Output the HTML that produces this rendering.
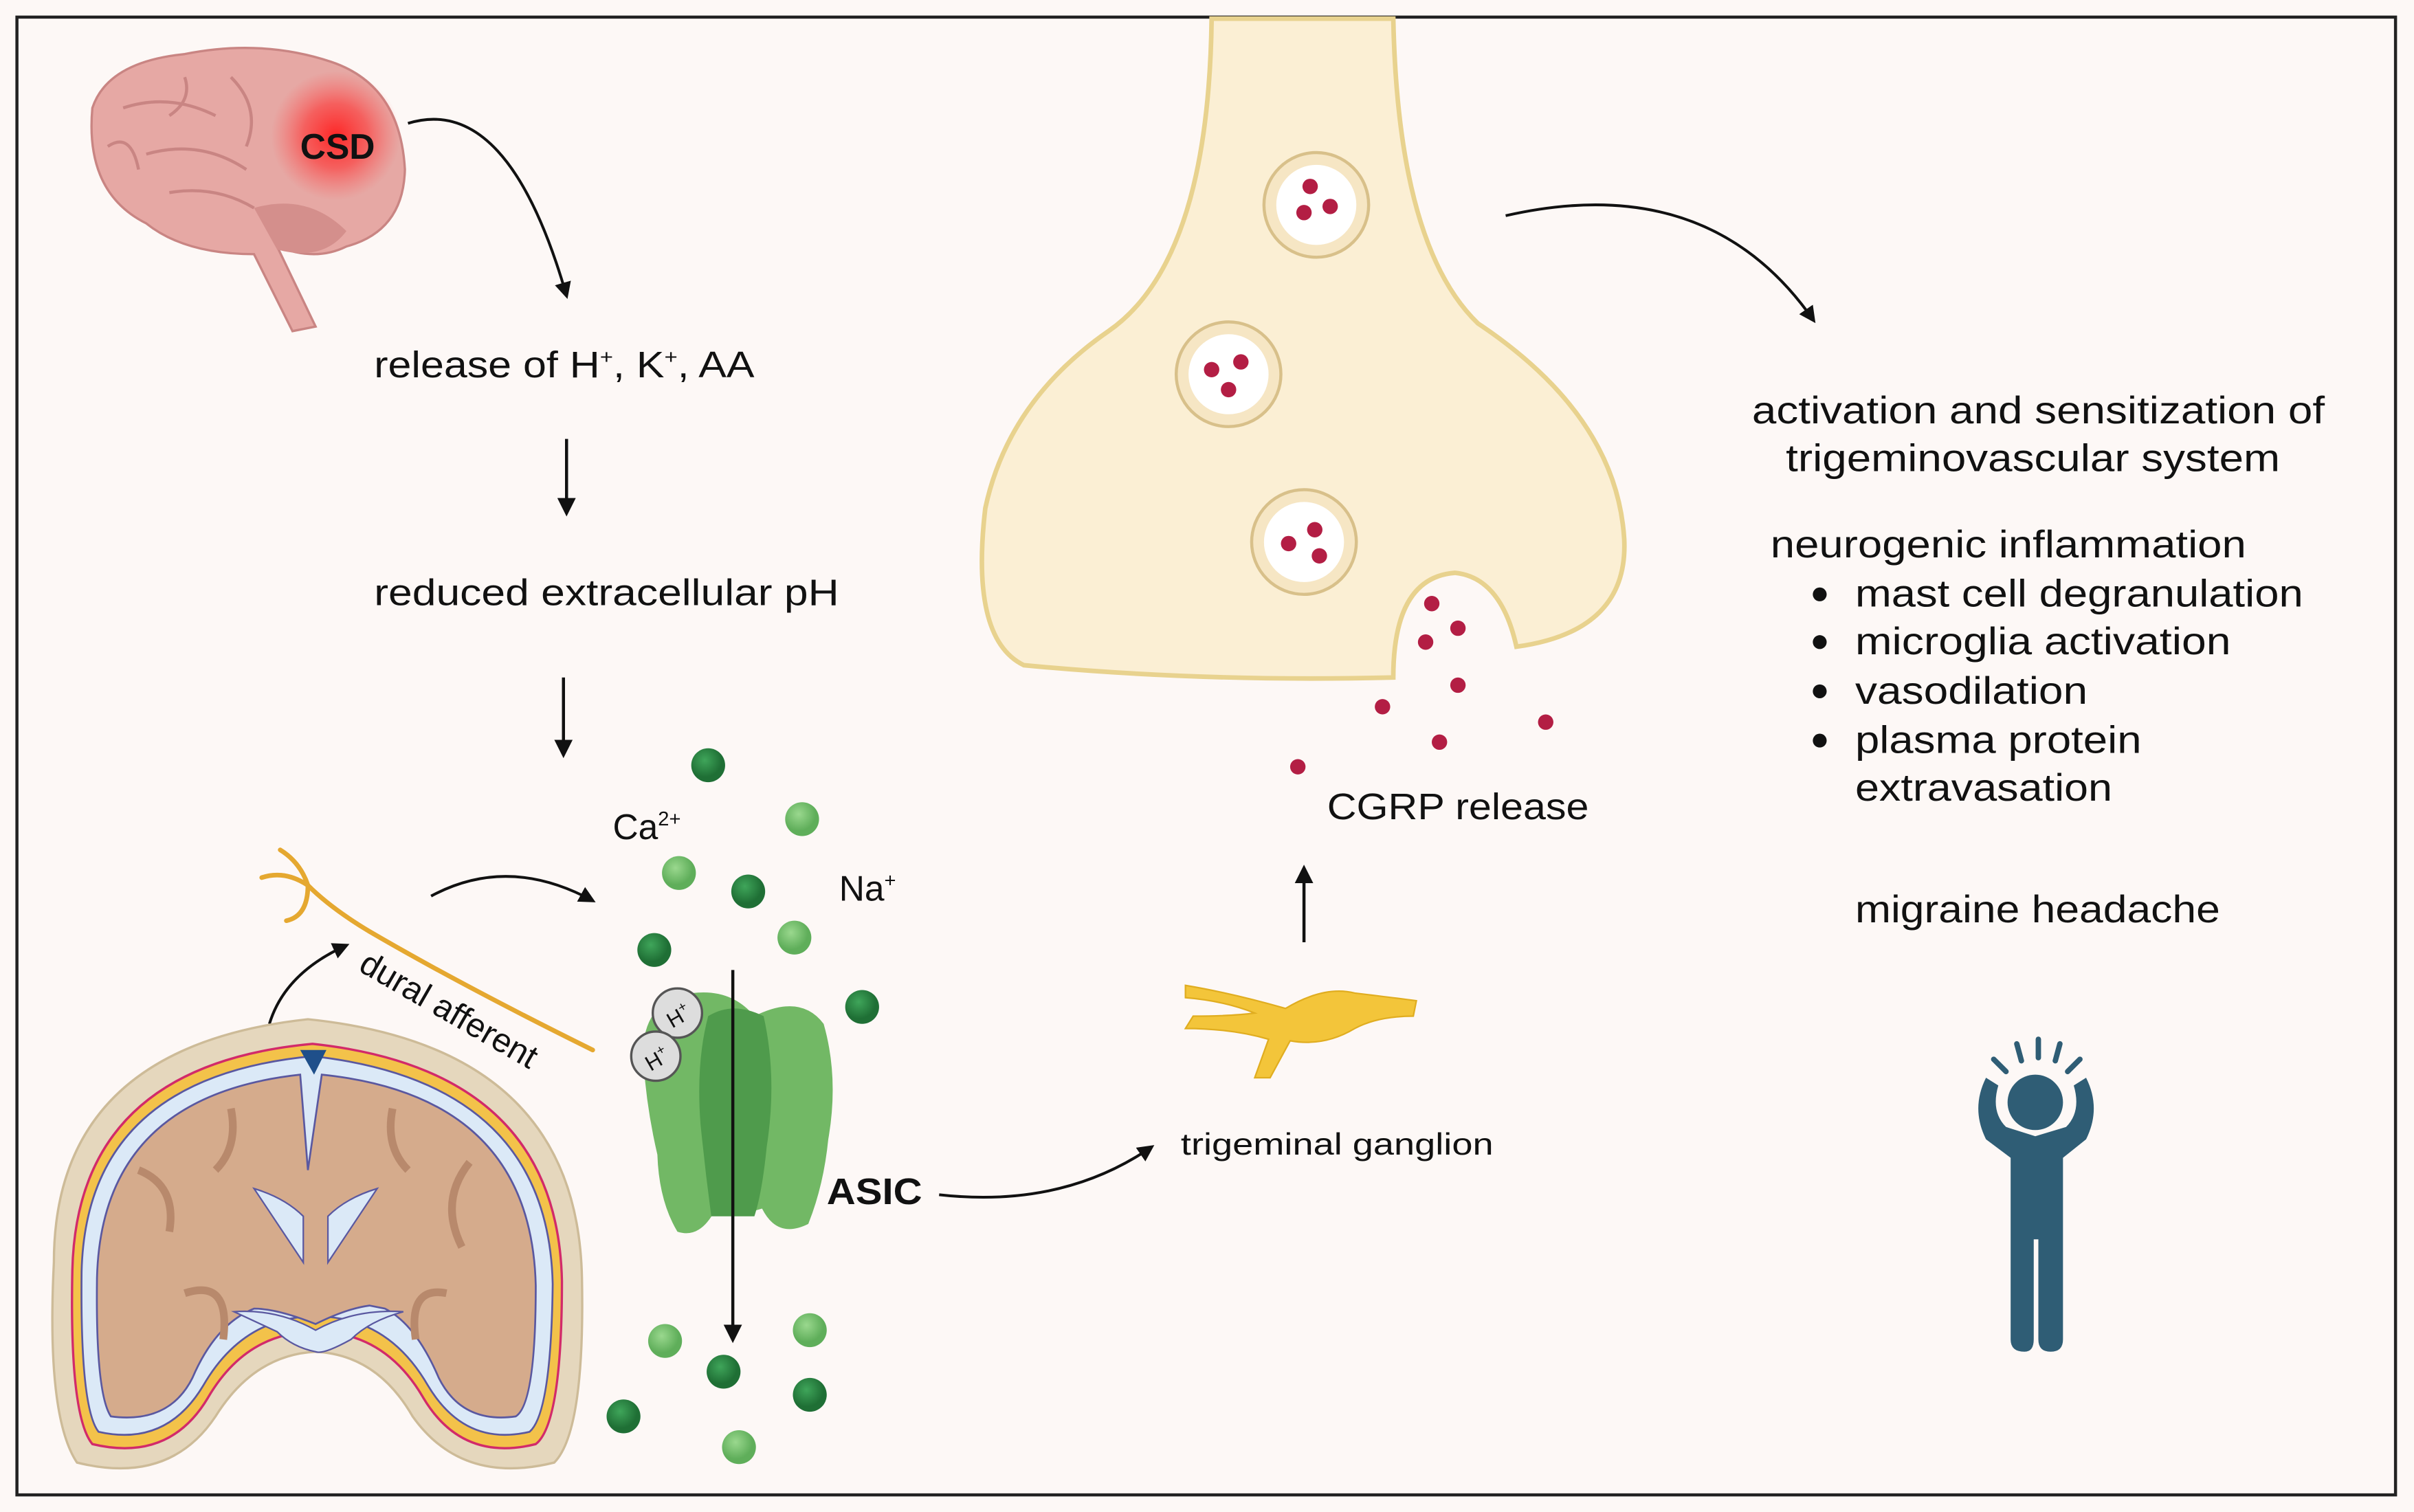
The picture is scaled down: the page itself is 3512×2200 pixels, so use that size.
<!DOCTYPE html>
<html><head><meta charset="utf-8"><style>
html,body{margin:0;padding:0;background:#fdf8f6}
svg{display:block}
text{font-family:"Liberation Sans",sans-serif;fill:#111}
</style></head><body>
<svg width="3512" height="2200" viewBox="0 0 1568 982" xmlns="http://www.w3.org/2000/svg">
<defs>
<marker id="ah" viewBox="0 0 10 10" refX="8" refY="5" markerWidth="6" markerHeight="6" orient="auto-start-reverse"><path d="M0,0 L10,5 L0,10 z" fill="#111"/></marker>
<radialGradient id="glow"><stop offset="0" stop-color="#ff2020" stop-opacity="0.95"/><stop offset="0.5" stop-color="#ff3030" stop-opacity="0.6"/><stop offset="1" stop-color="#ff5050" stop-opacity="0"/></radialGradient>
<radialGradient id="dg" cx="0.4" cy="0.35"><stop offset="0" stop-color="#3fa55a"/><stop offset="1" stop-color="#1f6f35"/></radialGradient>
<radialGradient id="lg" cx="0.4" cy="0.35"><stop offset="0" stop-color="#9ad88e"/><stop offset="1" stop-color="#5fae5a"/></radialGradient>
</defs>
<rect x="0" y="0" width="1568" height="982" fill="#fdf8f6"/>
<rect x="11" y="11" width="1545" height="960" fill="none" stroke="#222" stroke-width="2"/>

<!-- top brain -->
<path d="M60,70 Q70,40 120,35 Q170,25 215,40 Q260,55 263,110 Q262,150 225,160 Q205,170 180,160 L205,212 L190,215 L165,165 Q120,165 95,145 Q55,125 60,70 Z" fill="#e6a8a4" stroke="#c98583" stroke-width="1.5"/>
<path d="M165,135 Q200,125 225,150 Q210,170 180,162 Z" fill="#d48f8c"/>
<path d="M80,70 Q110,60 140,75 M95,100 Q130,90 160,110 M150,50 Q170,70 160,95 M110,125 Q140,120 165,135 M70,95 Q85,85 90,110 M120,50 Q125,65 110,75" stroke="#c98583" stroke-width="2" fill="none"/>
<circle cx="218" cy="88" r="42" fill="url(#glow)"/>
<text x="195" y="103" font-size="23" font-weight="bold">CSD</text>
<path d="M265,80 Q330,60 368,192" fill="none" stroke="#111" stroke-width="1.8" marker-end="url(#ah)"/>

<text x="243" y="245" font-size="24" textLength="247" lengthAdjust="spacingAndGlyphs">release of H<tspan font-size="13" dy="-9">+</tspan><tspan dy="9">, K</tspan><tspan font-size="13" dy="-9">+</tspan><tspan dy="9">, AA</tspan></text>
<line x1="368" y1="285" x2="368" y2="333" stroke="#111" stroke-width="2" marker-end="url(#ah)"/>
<text x="243" y="393" font-size="24" textLength="302" lengthAdjust="spacingAndGlyphs">reduced extracellular pH</text>
<line x1="366" y1="440" x2="366" y2="490" stroke="#111" stroke-width="2" marker-end="url(#ah)"/>

<!-- ions -->
<g fill="url(#dg)">
<circle cx="460" cy="497" r="11"/><circle cx="486" cy="579" r="11"/><circle cx="425" cy="617" r="11"/><circle cx="560" cy="654" r="11"/><circle cx="470" cy="891" r="11"/><circle cx="526" cy="906" r="11"/><circle cx="405" cy="920" r="11"/>
</g>
<g fill="url(#lg)">
<circle cx="521" cy="532" r="11"/><circle cx="441" cy="567" r="11"/><circle cx="516" cy="609" r="11"/><circle cx="432" cy="871" r="11"/><circle cx="526" cy="864" r="11"/><circle cx="480" cy="940" r="11"/>
</g>
<text x="398" y="545" font-size="23">Ca<tspan font-size="13" dy="-9">2+</tspan></text>
<text x="545" y="585" font-size="23">Na<tspan font-size="13" dy="-9">+</tspan></text>

<!-- dural afferent nerve -->
<g stroke="#e5a830" fill="none" stroke-linecap="round">
<path d="M385,682 Q300,640 240,605 Q215,590 200,575" stroke-width="3"/>
<path d="M200,575 Q185,565 170,570 M200,575 Q195,560 182,552 M200,575 Q200,595 186,598" stroke-width="3"/>
</g>
<path d="M280,582 Q330,555 385,585" fill="none" stroke="#111" stroke-width="1.8" marker-end="url(#ah)"/>
<path d="M175,665 Q185,632 225,614" fill="none" stroke="#111" stroke-width="1.8" marker-end="url(#ah)"/>
<text x="232" y="630" font-size="22" transform="rotate(30 232 630)">dural afferent</text>

<!-- skull -->
<path d="M35,820 Q35,680 200,662 Q375,680 378,830 Q380,930 360,950 Q300,965 268,920 Q245,880 205,878 Q165,880 140,920 Q110,965 50,950 Q30,920 35,820 Z" fill="#e5d7bd" stroke="#cdbb98" stroke-width="1.5"/>
<path d="M47,825 Q50,692 203,678 Q362,695 365,832 Q365,925 348,938 Q300,950 275,908 Q250,865 205,865 Q160,865 135,908 Q110,950 60,938 Q45,920 47,825 Z" fill="#f3c24a" stroke="#d22a6a" stroke-width="1.5"/>
<path d="M53,826 Q56,700 203,686 Q356,703 359,834 Q358,918 344,930 Q302,940 278,900 Q252,855 205,855 Q158,855 132,900 Q108,940 64,930 Q52,915 53,826 Z" fill="#dbe9f7" stroke="#5a58a0" stroke-width="1.2"/>
<path d="M63,830 Q66,712 195,698 L200,760 L209,698 Q345,712 348,835 Q348,912 335,920 Q300,925 285,895 Q270,860 250,850 L240,848 Q225,850 205,860 Q180,850 165,850 Q140,860 125,895 Q110,925 72,920 Q62,905 63,830 Z" fill="#d5ab8c" stroke="#5a58a0" stroke-width="1.2"/>
<path d="M90,760 Q115,770 110,800 M305,755 Q285,780 300,810 M120,840 Q150,830 145,870 M290,840 Q265,835 270,870 M150,720 Q155,745 140,760 M255,720 Q250,745 265,760" stroke="#b8896c" stroke-width="5" fill="none"/>
<path d="M165,772 Q185,778 197,790 L197,820 Z M245,772 Q225,778 213,790 L213,820 Z" fill="#dbe9f7" stroke="#5a58a0" stroke-width="1"/>
<path d="M152,852 Q180,850 205,864 Q230,850 262,852 Q240,858 228,870 Q210,880 205,878 Q190,875 180,865 Q165,858 152,852 Z" fill="#dbe9f7" stroke="#5a58a0" stroke-width="1"/>
<path d="M195,682 L212,682 L204,698 Z" fill="#1f4f8a"/>

<!-- ASIC -->
<path d="M418,690 Q415,650 450,645 Q475,642 490,660 Q520,645 535,665 Q545,700 538,740 Q535,770 525,795 Q505,805 495,785 Q480,790 465,785 Q455,805 440,800 Q428,780 427,750 Q420,720 418,690 Z" fill="#72b865"/>
<path d="M460,660 Q476,650 496,660 Q505,700 498,745 Q495,775 490,790 L462,790 Q458,760 455,730 Q452,690 460,660 Z" fill="#4f9b4c"/>
<circle cx="440" cy="658" r="16" fill="#ddd" stroke="#555" stroke-width="1.5"/>
<circle cx="426" cy="686" r="16" fill="#ddd" stroke="#555" stroke-width="1.5"/>
<text x="432" y="665" font-size="14" transform="rotate(-30 440 658)">H<tspan font-size="9" dy="-6">+</tspan></text>
<text x="418" y="693" font-size="14" transform="rotate(-30 426 686)">H<tspan font-size="9" dy="-6">+</tspan></text>
<line x1="476" y1="630" x2="476" y2="870" stroke="#111" stroke-width="2" marker-end="url(#ah)"/>
<text x="537" y="782" font-size="24" font-weight="bold" textLength="62" lengthAdjust="spacingAndGlyphs">ASIC</text>
<path d="M610,776 Q690,785 748,745" fill="none" stroke="#111" stroke-width="1.8" marker-end="url(#ah)"/>
<text x="767" y="750" font-size="20" textLength="203" lengthAdjust="spacingAndGlyphs">trigeminal ganglion</text>

<!-- ganglion -->
<g fill="#f3c53a" stroke="#e0ad20" stroke-width="1">
<path d="M770,640 Q800,645 835,655 Q860,640 880,645 Q905,648 920,650 L918,660 Q895,660 880,668 Q860,680 838,676 L825,700 L815,700 L824,675 Q800,668 770,668 L775,660 Q800,660 815,658 Q795,650 770,648 Z"/>
</g>
<line x1="847" y1="612" x2="847" y2="564" stroke="#111" stroke-width="2" marker-end="url(#ah)"/>
<text x="862" y="532" font-size="24" textLength="170" lengthAdjust="spacingAndGlyphs">CGRP release</text>

<!-- synaptic terminal -->
<path d="M787,12 L905,12 Q908,160 960,210 Q1050,270 1055,350 Q1058,410 985,420 Q975,375 945,372 Q905,375 905,440 Q780,443 665,432 Q630,415 640,330 Q655,260 720,215 Q785,170 787,12 Z" fill="#fbefd4" stroke="#e8d28e" stroke-width="3"/>
<g>
<circle cx="855" cy="133" r="34" fill="#f6e6c4" stroke="#d8c08a" stroke-width="2"/><circle cx="855" cy="133" r="26" fill="#fff"/>
<circle cx="798" cy="243" r="34" fill="#f6e6c4" stroke="#d8c08a" stroke-width="2"/><circle cx="798" cy="243" r="26" fill="#fff"/>
<circle cx="847" cy="352" r="34" fill="#f6e6c4" stroke="#d8c08a" stroke-width="2"/><circle cx="847" cy="352" r="26" fill="#fff"/>
</g>
<g fill="#b31e44">
<circle cx="851" cy="121" r="5"/><circle cx="847" cy="138" r="5"/><circle cx="864" cy="134" r="5"/>
<circle cx="787" cy="240" r="5"/><circle cx="806" cy="235" r="5"/><circle cx="798" cy="253" r="5"/>
<circle cx="837" cy="353" r="5"/><circle cx="854" cy="344" r="5"/><circle cx="857" cy="361" r="5"/>
<circle cx="930" cy="392" r="5"/><circle cx="947" cy="408" r="5"/><circle cx="926" cy="417" r="5"/><circle cx="947" cy="445" r="5"/><circle cx="898" cy="459" r="5"/><circle cx="1004" cy="469" r="5"/><circle cx="935" cy="482" r="5"/><circle cx="843" cy="498" r="5"/>
</g>
<path d="M978,140 Q1110,110 1178,208" fill="none" stroke="#111" stroke-width="1.8" marker-end="url(#ah)"/>

<!-- right text -->
<g font-size="25">
<text x="1138" y="275" textLength="372" lengthAdjust="spacingAndGlyphs">activation and sensitization of</text>
<text x="1160" y="306" textLength="321" lengthAdjust="spacingAndGlyphs">trigeminovascular system</text>
<text x="1150" y="362" textLength="309" lengthAdjust="spacingAndGlyphs">neurogenic inflammation</text>
<text x="1205" y="394" textLength="291" lengthAdjust="spacingAndGlyphs">mast cell degranulation</text>
<text x="1205" y="425" textLength="244" lengthAdjust="spacingAndGlyphs">microglia activation</text>
<text x="1205" y="457" textLength="151" lengthAdjust="spacingAndGlyphs">vasodilation</text>
<text x="1205" y="489" textLength="186" lengthAdjust="spacingAndGlyphs">plasma protein</text>
<text x="1205" y="520" textLength="167" lengthAdjust="spacingAndGlyphs">extravasation</text>
<text x="1205" y="599" textLength="237" lengthAdjust="spacingAndGlyphs">migraine headache</text>
</g>
<g fill="#111"><circle cx="1182" cy="386" r="4.5"/><circle cx="1182" cy="417" r="4.5"/><circle cx="1182" cy="449" r="4.5"/><circle cx="1182" cy="481" r="4.5"/></g>

<!-- person -->
<g fill="#2f5d75">
<circle cx="1322" cy="716" r="18"/>
<path d="M1290,700 Q1280,720 1290,740 L1306,752 L1306,870 Q1306,878 1315,878 Q1321,878 1321,870 L1321,805 L1324,805 L1324,870 Q1324,878 1332,878 Q1340,878 1340,870 L1340,752 L1355,740 Q1365,720 1355,700 L1347,705 Q1352,722 1342,732 L1322,738 L1303,732 Q1293,722 1298,705 Z"/>
</g>
<g stroke="#2f5d75" stroke-width="3.5" stroke-linecap="round">
<line x1="1295" y1="688" x2="1303" y2="696"/><line x1="1310" y1="678" x2="1313" y2="689"/><line x1="1324" y1="675" x2="1324" y2="687"/><line x1="1338" y1="678" x2="1335" y2="689"/><line x1="1351" y1="688" x2="1343" y2="696"/>
</g>
</svg>
</body></html>
